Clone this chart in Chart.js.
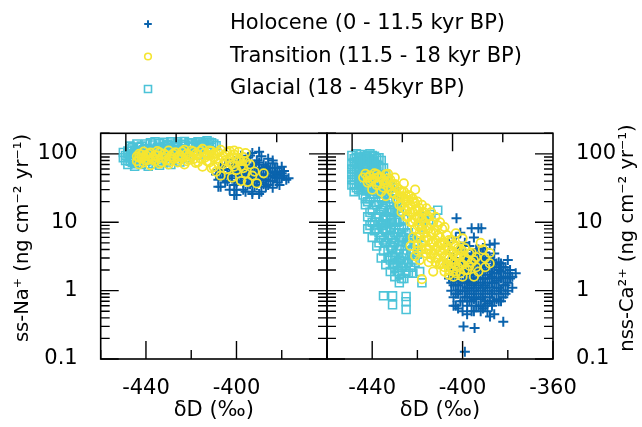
<!DOCTYPE html>
<html>
<head>
<meta charset="utf-8">
<script src="https://cdn.jsdelivr.net/npm/chart.js@4.4.1/dist/chart.umd.min.js"></script>
<style>
html, body { margin: 0; padding: 0; background: #fff; }
#wrap { position: relative; width: 642px; height: 427px; overflow: hidden; }
#wrap canvas { position: absolute; left: 0; top: 0; }
</style>
</head>
<body>
<div id="wrap">
  <canvas id="naChart" width="642" height="427"></canvas>
  <canvas id="caChart" width="642" height="427"></canvas>
  <canvas id="keyChart" width="600" height="300"></canvas>
</div>
<script>
// series names, in legend order
var seriesNames = ['Holocene (0 - 11.5 kyr BP)', 'Transition (11.5 - 18 kyr BP)', 'Glacial (18 - 45kyr BP)'];

// tick labels
var naXLabels = [-440, -400];
var caXLabels = [-440, -400, -360];
var yLabels = [0.1, 1, 10, 100];

// left panel: [dD, ss-Na flux]
var naHolocene = [[-409,50],[-408,42],[-408,58],[-407,33],[-407,62],[-406,45],[-405,38],[-405,70],[-404,52],[-403,30],[-403,60],[-402,44],[-401,78],[-401,35],[-400,25],[-400,55],[-399,86],[-399,48],[-398,40],[-398,65],[-397,30],[-397,52],[-396,72],[-396,44],[-395,58],[-395,36],[-394,95],[-394,48],[-393,28],[-393,66],[-393,103],[-392,40],[-392,55],[-391,80],[-391,46],[-390,26],[-390,107],[-390,62],[-389,38],[-389,50],[-388,70],[-388,42],[-387,58],[-387,33],[-386,48],[-386,85],[-385,40],[-385,55],[-384,73],[-384,32],[-383,45],[-383,62],[-382,50],[-382,38],[-381,35],[-381,55],[-380,44],[-380,65],[-379,48],[-378,42],[-377,44],[-404,82],[-402,68],[-398,94],[-395,88],[-392,34],[-389,28],[-386,62],[-389,92],[-384,80],[-408,33],[-401,25],
  [-407,52],[-406,58],[-404,40],[-403,48],[-402,55],[-400,38],[-400,68],[-399,58],[-398,50],[-397,38],[-397,62],[-396,50],[-395,44],[-394,36],[-394,56],[-393,45],[-392,62],[-392,70],[-391,35],[-391,52],[-390,44],[-390,75],[-389,60],[-388,50],[-388,36],[-387,42],[-387,66],[-386,35],[-385,48],[-385,62],[-384,55],[-384,40],[-383,52],[-382,44],[-382,62],[-381,48],[-380,52],[-379,56],[-400,30],[-396,28],[-393,26]];
var naTransition = [[-444,92],[-444,78],[-443,100],[-443,70],[-442,86],[-441,108],[-441,75],[-440,95],[-439,82],[-438,104],[-438,68],[-437,90],[-436,78],[-435,110],[-435,95],[-434,72],[-433,88],[-432,100],[-431,80],[-430,112],[-430,70],[-429,92],[-428,84],[-427,105],[-426,75],[-425,96],[-424,88],[-423,115],[-423,70],[-422,100],[-421,82],[-420,92],[-419,108],[-418,74],[-417,98],[-416,86],[-415,118],[-415,65],[-414,104],[-413,78],[-412,95],[-411,110],[-411,62],[-410,88],[-409,100],[-409,55],[-408,72],[-407,115],[-407,48],[-406,92],[-405,80],[-404,105],[-404,60],[-403,88],[-402,45],[-402,70],[-401,98],[-401,112],[-400,58],[-399,82],[-399,107],[-398,40],[-398,66],[-397,90],[-396,52],[-396,77],[-396,103],[-395,39],[-393,48],[-391,37],[-388,52],
  [-443,88],[-442,98],[-441,90],[-440,80],[-439,100],[-437,84],[-436,95],[-434,105],[-433,75],[-431,95],[-429,78],[-428,100],[-426,90],[-425,82],[-424,108],[-422,78],[-421,95],[-420,112],[-419,84],[-418,100],[-417,76],[-416,110],[-414,88],[-413,96],[-412,75],[-412,112],[-410,100],[-410,64],[-408,105],[-408,85],[-406,70],[-405,98],[-403,75],[-403,110],[-401,65],[-400,88],[-398,78],[-397,62],[-394,70],[-392,55]];
var naGlacial = [[-449,95],[-449,80],[-448,110],[-448,70],[-447,118],[-447,88],[-446,100],[-446,75],[-445,112],[-445,66],[-444,92],[-444,105],[-443,82],[-443,125],[-442,98],[-442,70],[-441,115],[-441,88],[-440,78],[-440,140],[-439,100],[-439,66],[-438,118],[-438,85],[-437,135],[-437,72],[-436,95],[-436,150],[-435,108],[-435,80],[-434,142],[-434,68],[-433,122],[-433,92],[-432,100],[-432,148],[-431,76],[-431,112],[-430,132],[-430,88],[-429,150],[-429,70],[-428,104],[-428,125],[-427,140],[-427,82],[-426,95],[-426,150],[-425,115],[-425,76],[-424,138],[-423,100],[-423,152],[-422,88],[-421,128],[-420,145],[-419,108],[-418,140],[-417,96],[-416,150],[-415,118],[-414,138],[-413,105],[-412,148],[-411,125],[-410,140],[-409,132],
  [-448,100],[-447,78],[-446,125],[-445,90],[-444,72],[-443,110],[-442,130],[-441,100],[-440,92],[-440,120],[-439,82],[-438,145],[-437,110],[-436,85],[-435,125],[-434,95],[-433,75],[-432,128],[-431,138],[-430,100],[-429,118],[-428,90],[-427,112],[-426,130],[-425,98],[-424,120],[-423,130],[-422,110],[-421,145],[-420,125],[-419,135],[-418,120],[-417,150],[-416,130],[-415,140],[-413,155],[-411,145],[-447,130],[-444,140],[-450,88],[-450,105]];

// right panel: [dD, nss-Ca flux]
var caHolocene = [[-402.7,11.4],[-396,8.2],[-393,8.2],[-391.7,8.2],[-388,4.7],[-385.8,4.9],[-383,2.5],[-383.5,2.2],[-376.5,1.8],[-406,5],[-403,6],[-401,7],[-399,5],[-395,6],[-407,2.5],[-406,1.5],[-406,3.5],[-405,1],[-405,2],[-404,0.8],[-404,1.6],[-404,3],[-403,1.2],[-403,0.6],[-403,2.2],[-402,1.8],[-402,0.9],[-402,4],[-401,1.4],[-401,0.7],[-401,2.6],[-400,1],[-400,0.5],[-400,1.9],[-400,3.5],[-399,1.3],[-399,0.8],[-399,2.4],[-398,1.7],[-398,0.6],[-398,1.1],[-398,3],[-397,2],[-397,0.9],[-397,1.4],[-397,4.5],[-396,1.2],[-396,0.7],[-396,2.6],[-396,1.7],[-395,1],[-395,2.1],[-395,0.5],[-395,3.5],[-394,1.5],[-394,0.8],[-394,2.8],[-393,1.2],[-393,0.6],[-393,1.9],[-393,4],[-392,1],[-392,2.4],[-392,0.75],[-391,1.5],[-391,3],[-391,0.55],[-390,1.2],[-390,2],[-390,0.9],[-389,1.7],[-389,0.65],[-389,2.8],[-388,1.1],[-388,1.5],[-388,0.8],[-387,2.2],[-387,0.6],[-387,1.3],[-386,1],[-386,1.8],[-386,3.5],[-385,0.75],[-385,1.4],[-385,2.5],[-384,1.1],[-384,0.9],[-384,2],[-383,1.5],[-383,0.7],[-382,1.2],[-382,2.2],[-381,1.6],[-381,0.9],[-380,1.3],[-380,2.8],[-379,2],[-378,1.1],[-399.6,0.3],[-394.7,0.285],[-399,0.128],[-387.9,0.42],[-382,0.35],[-386,0.45],[-389,0.5],
  [-405,1.3],[-405,2.6],[-404,1.2],[-404,2.2],[-403,0.9],[-403,1.6],[-402,1.2],[-402,2.6],[-401,1],[-401,1.9],[-400,0.7],[-400,1.3],[-400,2.8],[-399,1],[-399,1.7],[-399,3.5],[-398,0.8],[-398,1.4],[-398,2.3],[-397,0.7],[-397,1.1],[-397,1.7],[-397,2.8],[-396,0.9],[-396,1.4],[-396,2.1],[-396,3.4],[-395,0.75],[-395,1.3],[-395,1.7],[-395,2.6],[-394,0.6],[-394,1.1],[-394,2],[-394,4],[-393,0.9],[-393,1.5],[-393,2.5],[-393,3],[-392,0.6],[-392,1.3],[-392,1.7],[-392,3.4],[-391,0.8],[-391,1.1],[-391,2],[-391,4.2],[-390,0.7],[-390,1.5],[-390,2.6],[-390,3.6],[-389,1],[-389,1.3],[-389,2.2],[-388,0.7],[-388,1.9],[-388,3],[-387,0.9],[-387,1.6],[-387,2.8],[-386,0.7],[-386,1.3],[-386,2.4],[-385,1.1],[-385,1.8],[-384,1.5],[-384,0.7],[-384,2.6],[-383,1],[-383,1.9],[-382,0.8],[-382,1.6],[-381,1.2],[-381,2.2],[-380,1],[-380,1.8],[-379,1.5],[-378,1.6],[-404,0.6],[-402,0.55],[-398,0.45],[-396,0.5],[-392,0.5],[-390,0.6]];
var caTransition = [[-444,45],[-443,51],[-442,38],[-441,48],[-440,42],[-440,30],[-439,52],[-438,35],[-437,46],[-436,28],[-435,40],[-434,50],[-434,24],[-433,51],[-433,33],[-432,42],[-431,27],[-430,36],[-429,22],[-428,30],[-427,24],[-426,37],[-425,20],[-421,30],[-428,18],[-427,14],[-426,22],[-425,12],[-424,17],[-423,10],[-423,24],[-422,14],[-421,8],[-421,19],[-420,12],[-420,6],[-419,16],[-419,9],[-418,5],[-418,11],[-417,14],[-417,7],[-416,4],[-416,9],[-415,12],[-415,5.5],[-414,7],[-414,3.5],[-413,10],[-413,5],[-412,3],[-412,7.5],[-411,4.5],[-411,9],[-410,2.5],[-410,6],[-409,3.5],[-409,8],[-408,5],[-408,2.2],[-408,8.5],[-407,3],[-407,6.5],[-406,4],[-406,2],[-405,5.5],[-405,2.8],[-404,3.5],[-404,1.9],[-403,4.5],[-403,2.5],[-403,6.9],[-402,3],[-401,1.8],[-401,4],[-400,2.4],[-400,1.6],[-400,5.8],[-399,3],[-398,2],[-397,3.5],[-396,2.6],[-395,1.6],[-394,2.2],[-392,5],[-390,3],[-388,3.55],[-388,2.5],[-418,1.47],[-413,1.9],[-415,2.6],[-423,4.5],[-421,3.2],[-420,3.8],[-419,2.8],
  [-442,45],[-441,40],[-439,44],[-438,50],[-437,38],[-436,45],[-435,32],[-434,38],[-433,44],[-432,30],[-431,36],[-430,26],[-430,45],[-429,32],[-428,24],[-427,28],[-427,18],[-426,16],[-426,28],[-425,15],[-425,24],[-424,12],[-424,21],[-423,14],[-423,18],[-422,10],[-422,20],[-421,11],[-421,15],[-420,9],[-420,15],[-419,7],[-419,12],[-418,8],[-418,14],[-417,5.5],[-417,10],[-416,6],[-416,12],[-415,4],[-415,8],[-414,5],[-414,9.5],[-413,3.5],[-413,7],[-412,4],[-412,5.5],[-411,3],[-411,6.5],[-410,3.8],[-410,4.8],[-409,2.5],[-409,5],[-408,3.2],[-408,4],[-407,2.4],[-407,4.5],[-406,3],[-406,5.5],[-405,2.2],[-405,3.8],[-404,2.6],[-404,4.8],[-403,1.8],[-403,3.2],[-402,2.2],[-402,4.2],[-401,2.6],[-401,3.2],[-400,3.8],[-399,2],[-399,4.2],[-398,2.8],[-397,2.3],[-396,3.6],[-395,2.8],[-394,3.1],[-393,1.9],[-391,4],[-390,2.2],
  [-424,25],[-422,22],[-420,20],[-418,18],[-416,16],[-414,14],[-412,12],[-410,10],[-422,6],[-420,4.5],[-418,4],[-416,3.5],[-414,3],[-412,2.6],[-410,2.4],[-408,1.9],[-406,1.7],[-404,1.6]];
var caGlacial = [[-449,95],[-449,70],[-449,50],[-449,35],[-448,85],[-448,60],[-448,42],[-448,28],[-447,100],[-447,75],[-447,55],[-446,90],[-446,65],[-446,45],[-446,30],[-445,98],[-445,80],[-445,38],[-444,70],[-444,52],[-444,25],[-443,92],[-443,60],[-443,40],[-443,18],[-442,85],[-442,48],[-442,30],[-442,12],[-441,100],[-441,68],[-441,22],[-441,9],[-440,78],[-440,36],[-440,15],[-440,6],[-439,92],[-439,55],[-439,26],[-439,10],[-438,70],[-438,40],[-438,18],[-438,4.5],[-437,88],[-437,30],[-437,13],[-437,7],[-436,62],[-436,22],[-436,9],[-436,3],[-435,48],[-435,16],[-435,5.5],[-434,38],[-434,12],[-434,7.5],[-434,2.4],[-433,28],[-433,9.5],[-433,4],[-432,20],[-432,6.5],[-432,1.9],[-431,32],[-431,14],[-431,3.2],[-430,10],[-430,5],[-430,1.6],[-429,16],[-429,7],[-429,2.6],[-428,4],[-428,1.3],[-428,11],[-427,6],[-427,2.2],[-426,8.5],[-426,3.5],[-426,1.5],[-425,5],[-425,2.5],[-424,7],[-424,1.8],[-423,3.8],[-423,5.8],[-422,2.8],[-421,4.6],[-420,3.4],[-419,6],[-418,8.5],[-417,12],[-415,10.8],[-414,13],[-411,15],[-419,1.9],[-418,1.3],[-435,0.84],[-431,0.84],[-431,0.62],[-425,0.82],[-425,0.69],[-425,0.53],
  [-449,60],[-449,42],[-448,75],[-448,50],[-448,35],[-447,88],[-447,65],[-447,45],[-447,32],[-446,80],[-446,55],[-446,38],[-445,70],[-445,50],[-445,30],[-444,90],[-444,62],[-444,42],[-444,32],[-443,78],[-443,50],[-443,30],[-443,22],[-442,95],[-442,65],[-442,38],[-442,20],[-442,8],[-441,85],[-441,55],[-441,42],[-441,30],[-441,14],[-440,95],[-440,62],[-440,48],[-440,26],[-440,10],[-439,75],[-439,40],[-439,18],[-439,7.5],[-438,85],[-438,55],[-438,28],[-438,12],[-438,8],[-437,65],[-437,42],[-437,20],[-437,10],[-437,5],[-436,80],[-436,45],[-436,30],[-436,15],[-436,6],[-435,62],[-435,30],[-435,22],[-435,11],[-435,8],[-435,3.8],[-434,50],[-434,28],[-434,18],[-434,9.5],[-434,5],[-433,42],[-433,22],[-433,14],[-433,6],[-433,3],[-432,35],[-432,15],[-432,11],[-432,8],[-432,4.5],[-432,2.8],[-431,22],[-431,10],[-431,6],[-431,4.3],[-431,2.4],[-430,28],[-430,15],[-430,7],[-430,3],[-430,2.2],[-429,20],[-429,10],[-429,4],[-429,1.9],[-428,14],[-428,8],[-428,5.5],[-428,2.8],[-428,1.8],[-427,8],[-427,4.5],[-427,3],[-427,1.5],[-426,11],[-426,6],[-426,2.5],[-425,7],[-425,3.5],[-425,1.9],[-424,5],[-424,2.6],[-423,2.2],[-422,4],[-422,1.8],[-421,2.6],[-420,5]];

var FONT = '"DejaVu Sans", sans-serif';
var BLUE = '#0a63ad', YELLOW = '#f5e530', CYAN = '#4cc3d8';
var markStyles = [
  { pointStyle: 'cross', color: BLUE, radius: 5, width: 2, order: 1 },
  { pointStyle: 'circle', color: YELLOW, radius: 4.2, width: 1.8, order: 0 },
  { pointStyle: 'rect', color: CYAN, radius: 5.6, width: 1.6, order: 2 }
];

Chart.defaults.font.family = FONT;
Chart.defaults.font.size = 21;
Chart.defaults.color = '#000';

function makeSets(list) {
  return list.map(function (pts, i) {
    var s = markStyles[i];
    return {
      label: seriesNames[i],
      data: pts,
      order: s.order,
      pointStyle: s.pointStyle,
      pointRadius: s.radius,
      pointBorderWidth: s.width,
      borderColor: s.color,
      backgroundColor: 'rgba(0,0,0,0)',
      showLine: false
    };
  });
}

// frame + inward ticks on four sides
var frameTicks = {
  id: 'frameTicks',
  afterDraw: function (chart) {
    var ctx = chart.ctx, a = chart.chartArea;
    var xs = chart.scales.x, xt = chart.scales.xTop, ys = chart.scales.y;
    ctx.save();
    ctx.strokeStyle = '#000';
    ctx.lineWidth = 1.4;
    ctx.beginPath();
    for (var v = -460; v <= -360; v += 20) {
      var px = xs.getPixelForValue(v), len = (v % 40 === 0) ? 18 : 9;
      ctx.moveTo(px, a.bottom); ctx.lineTo(px, a.bottom - len);
    }
    for (var t = 0; t < 4; t++) {
      var pt = xt.getPixelForValue(t + 0.5), lt = (t % 2 === 0) ? 18 : 9;
      ctx.moveTo(pt, a.top); ctx.lineTo(pt, a.top + lt);
    }
    for (var d = 0.1; d < 300; d *= 10) {
      for (var k = 1; k <= 9; k++) {
        var val = d * k;
        if (val > 200.001) break;
        var py = ys.getPixelForValue(val), ly = (k === 1) ? 18 : 9;
        ctx.moveTo(a.left, py); ctx.lineTo(a.left + ly, py);
        ctx.moveTo(a.right, py); ctx.lineTo(a.right - ly, py);
      }
    }
    ctx.stroke();
    ctx.lineWidth = 1.6;
    ctx.strokeRect(a.left, a.top, a.right - a.left, a.bottom - a.top);
    ctx.restore();
  }
};

function sideTitle(text, x, y) {
  return {
    id: 'sideTitle',
    afterDraw: function (chart) {
      var ctx = chart.ctx;
      ctx.save();
      ctx.translate(x, y);
      ctx.rotate(-Math.PI / 2);
      ctx.font = '19.5px ' + FONT;
      ctx.fillStyle = '#000';
      ctx.textAlign = 'center';
      ctx.textBaseline = 'middle';
      ctx.fillText(text, 0, 0);
      ctx.restore();
    }
  };
}

function panelOptions(xLabels, yPos, pad, yWidth) {
  return {
    responsive: false,
    animation: false,
    events: [],
    layout: { padding: pad },
    plugins: { legend: { display: false }, tooltip: { enabled: false } },
    scales: {
      x: {
        type: 'linear', position: 'bottom', min: -460, max: -360,
        grid: { display: false }, border: { display: false },
        afterBuildTicks: function (s) { s.ticks = xLabels.map(function (v) { return { value: v }; }); },
        afterFit: function (s) { s.height = 68; },
        ticks: { padding: 9, autoSkip: false, maxRotation: 0, callback: function (v) { return String(v); } },
        title: { display: true, text: 'δD (‰)', padding: { top: 0, bottom: 4 } }
      },
      xTop: { type: 'linear', position: 'top', display: false, min: 0, max: 4.5 },
      y: {
        type: 'logarithmic', position: yPos, min: 0.1, max: 200,
        grid: { display: false }, border: { display: false },
        afterBuildTicks: function (s) { s.ticks = yLabels.map(function (v) { return { value: v }; }); },
        afterFit: function (s) { s.width = yWidth; },
        ticks: { padding: 15, autoSkip: false, callback: function (v) { return String(v); } }
      }
    }
  };
}

new Chart(document.getElementById('naChart'), {
  type: 'scatter',
  data: { datasets: makeSets([naHolocene, naTransition, naGlacial]) },
  options: panelOptions(naXLabels, 'left', { left: 0, top: 133.3, right: 315, bottom: 0 }, 100.7),
  plugins: [frameTicks, sideTitle('ss-Na⁺ (ng cm⁻² yr⁻¹)', 22.5, 238)]
});

new Chart(document.getElementById('caChart'), {
  type: 'scatter',
  data: { datasets: makeSets([caHolocene, caTransition, caGlacial]) },
  options: panelOptions(caXLabels, 'right', { left: 327, top: 133.3, right: 0, bottom: 0 }, 89),
  plugins: [frameTicks, sideTitle('nss-Ca²⁺ (ng cm⁻² yr⁻¹)', 628, 238)]
});

// legend: Chart.js legend text, marks drawn beside it
var keyMarks = {
  id: 'keyMarks',
  afterDraw: function (chart) {
    var ctx = chart.ctx;
    chart.legend.legendHitBoxes.forEach(function (b, i) {
      var s = markStyles[i], cx = b.left + 7, cy = b.top + b.height / 2;
      ctx.save();
      ctx.strokeStyle = s.color;
      ctx.lineWidth = s.pointStyle === 'cross' ? 2 : 1.6;
      ctx.beginPath();
      if (s.pointStyle === 'cross') {
        ctx.moveTo(cx - 3.8, cy); ctx.lineTo(cx + 3.8, cy);
        ctx.moveTo(cx, cy - 3.8); ctx.lineTo(cx, cy + 3.8);
      } else if (s.pointStyle === 'circle') {
        ctx.arc(cx, cy, 3.3, 0, Math.PI * 2);
      } else {
        ctx.rect(cx - 3.5, cy - 3.5, 7, 7);
      }
      ctx.stroke();
      ctx.restore();
    });
  }
};

new Chart(document.getElementById('keyChart'), {
  type: 'scatter',
  data: { datasets: seriesNames.map(function (n) { return { label: n, data: [] }; }) },
  options: {
    responsive: false,
    animation: false,
    events: [],
    layout: { padding: { left: 129.5, top: 2 } },
    scales: { x: { display: false }, y: { display: false } },
    plugins: {
      tooltip: { enabled: false },
      legend: {
        position: 'top', align: 'start',
        labels: {
          boxWidth: 78.5, boxHeight: 21, padding: 11.5, color: '#000',
          font: { family: FONT, size: 21 },
          generateLabels: function () {
            return seriesNames.map(function (n, i) {
              return { text: n, fillStyle: 'rgba(0,0,0,0)', strokeStyle: 'rgba(0,0,0,0)', lineWidth: 0, hidden: false, datasetIndex: i };
            });
          }
        }
      }
    }
  },
  plugins: [keyMarks]
});
</script>
</body>
</html>
